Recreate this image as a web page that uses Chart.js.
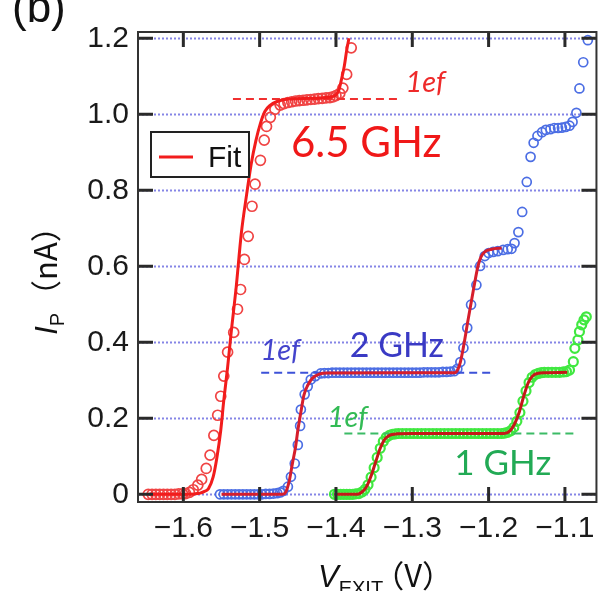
<!DOCTYPE html>
<html>
<head>
<meta charset="utf-8">
<script src="https://cdn.jsdelivr.net/npm/chart.js@4.4.0/dist/chart.umd.min.js"></script>
<style>
  html, body { margin: 0; padding: 0; background: #fff; }
  canvas { display: block; }
</style>
</head>
<body>
<canvas id="chart" width="604" height="591"></canvas>
<script>
// pumped current I_P against exit gate voltage, three pump frequencies
const xTicks = [-1.6, -1.5, -1.4, -1.3, -1.2, -1.1];
const yTicks = [0, 0.2, 0.4, 0.6, 0.8, 1.0, 1.2];

// 6.5 GHz measurement and fit
const data65 = [
  [-1.646,0],[-1.641,0],[-1.636,0],[-1.631,0],[-1.626,0],[-1.621,0],[-1.616,0],[-1.611,0],[-1.606,0.001],[-1.601,0.001],[-1.597,0.002],
  [-1.592,0.005],[-1.587,0.012],[-1.581,0.024],[-1.576,0.039],[-1.570,0.068],[-1.565,0.103],[-1.560,0.155],[-1.555,0.208],[-1.551,0.258],
  [-1.547,0.311],[-1.542,0.374],[-1.534,0.426],[-1.529,0.487],[-1.525,0.539],[-1.520,0.618],[-1.515,0.679],[-1.510,0.758],[-1.506,0.816],
  [-1.499,0.879],[-1.494,0.932],[-1.491,0.968],[-1.486,0.992],[-1.480,1.013],[-1.473,1.024],[-1.468,1.028],[-1.463,1.031],[-1.458,1.033],
  [-1.453,1.035],[-1.448,1.036],[-1.443,1.037],[-1.438,1.038],[-1.433,1.039],[-1.428,1.040],[-1.423,1.041],[-1.418,1.042],[-1.413,1.043],
  [-1.408,1.044],[-1.404,1.046],[-1.400,1.049],[-1.395,1.055],[-1.391,1.069],[-1.386,1.105],[-1.380,1.175]
];
const fit65 = [
  [-1.646,0],[-1.600,0],[-1.585,0.001],[-1.578,0.003],[-1.573,0.007],[-1.567,0.015],[-1.561,0.045],[-1.556,0.097],[-1.551,0.168],
  [-1.547,0.247],[-1.542,0.334],[-1.537,0.432],[-1.531,0.54],[-1.524,0.687],[-1.517,0.79],[-1.511,0.87],[-1.505,0.93],[-1.499,0.976],
  [-1.493,1.008],[-1.486,1.024],[-1.478,1.033],[-1.463,1.040],[-1.430,1.042],[-1.410,1.045],[-1.400,1.051],[-1.396,1.065],[-1.393,1.090],
  [-1.389,1.128],[-1.386,1.168],[-1.383,1.200]
];

// 2 GHz measurement and fit
const data2 = [
  [-1.552,0],[-1.547,0],[-1.542,0],[-1.537,0],[-1.532,0],[-1.527,0],[-1.522,0],[-1.517,0],[-1.512,0],[-1.507,0],[-1.502,0],[-1.497,0],
  [-1.492,0.001],[-1.487,0.001],[-1.482,0.002],[-1.477,0.003],[-1.473,0.005],[-1.469,0.009],
  [-1.463,0.020],[-1.459,0.046],[-1.454,0.081],[-1.450,0.130],[-1.447,0.180],[-1.446,0.223],[-1.441,0.263],[-1.437,0.284],[-1.433,0.302],
  [-1.427,0.311],[-1.420,0.318],
  [-1.415,0.319],[-1.410,0.319],[-1.405,0.320],[-1.400,0.320],[-1.395,0.320],[-1.390,0.320],[-1.385,0.320],[-1.380,0.320],[-1.375,0.320],
  [-1.370,0.320],[-1.365,0.320],[-1.360,0.320],[-1.355,0.320],[-1.350,0.320],[-1.345,0.320],[-1.340,0.320],[-1.335,0.320],[-1.330,0.320],
  [-1.325,0.320],[-1.320,0.320],[-1.315,0.320],[-1.310,0.320],[-1.305,0.320],[-1.300,0.320],[-1.295,0.320],[-1.290,0.320],[-1.285,0.321],
  [-1.280,0.321],[-1.275,0.321],[-1.270,0.321],[-1.265,0.321],[-1.260,0.322],[-1.255,0.322],[-1.250,0.323],[-1.245,0.324],[-1.241,0.330],
  [-1.237,0.348],[-1.233,0.385],[-1.228,0.438],[-1.223,0.499],[-1.216,0.551],[-1.211,0.601],[-1.205,0.627],[-1.200,0.635],[-1.194,0.638],
  [-1.188,0.640],[-1.181,0.643],[-1.175,0.645],[-1.170,0.646],[-1.166,0.661],[-1.161,0.690],[-1.156,0.743],[-1.150,0.822],[-1.145,0.888],
  [-1.141,0.925],[-1.136,0.943],[-1.130,0.953],[-1.125,0.959],[-1.119,0.961],[-1.114,0.964],[-1.109,0.964],[-1.104,0.965],[-1.099,0.967],
  [-1.094,0.970],[-1.090,0.980],[-1.085,1.004],[-1.081,1.068],[-1.076,1.137],[-1.070,1.195]
];
const fit2 = [
  [-1.550,0],[-1.470,0],[-1.466,0.005],[-1.461,0.037],[-1.457,0.082],[-1.453,0.124],[-1.450,0.168],[-1.446,0.216],[-1.442,0.261],
  [-1.437,0.287],[-1.431,0.305],[-1.422,0.316],[-1.411,0.319],[-1.300,0.320],[-1.244,0.320],[-1.240,0.330],[-1.237,0.348],[-1.233,0.387],
  [-1.227,0.458],[-1.220,0.537],[-1.214,0.600],[-1.210,0.625],[-1.205,0.638],[-1.196,0.645],[-1.183,0.648]
];

// 1 GHz measurement and fit
const data1 = [
  [-1.402,0],[-1.398,0],[-1.394,0],[-1.390,0],[-1.386,0],[-1.382,0],[-1.378,0],[-1.374,0.001],[-1.370,0.002],[-1.366,0.006],[-1.362,0.013],
  [-1.358,0.025],[-1.354,0.045],[-1.350,0.070],[-1.346,0.097],[-1.342,0.121],[-1.338,0.139],[-1.334,0.150],[-1.330,0.155],[-1.326,0.158],
  [-1.322,0.159],[-1.318,0.160],
  [-1.313,0.160],[-1.308,0.160],[-1.303,0.160],[-1.298,0.160],[-1.293,0.160],[-1.288,0.160],[-1.283,0.160],[-1.278,0.160],[-1.273,0.160],
  [-1.268,0.160],[-1.263,0.160],[-1.258,0.160],[-1.253,0.160],[-1.248,0.160],[-1.243,0.160],[-1.238,0.160],[-1.233,0.160],[-1.228,0.160],
  [-1.223,0.160],[-1.218,0.160],[-1.213,0.160],[-1.208,0.160],[-1.203,0.160],[-1.198,0.160],[-1.193,0.160],[-1.188,0.160],[-1.183,0.160],
  [-1.179,0.161],[-1.175,0.163],[-1.171,0.167],[-1.167,0.176],[-1.163,0.192],[-1.159,0.215],[-1.155,0.245],[-1.151,0.272],[-1.147,0.294],
  [-1.143,0.308],[-1.139,0.315],[-1.135,0.318],[-1.131,0.320],[-1.127,0.321],[-1.122,0.321],[-1.117,0.321],[-1.112,0.321],[-1.107,0.321],
  [-1.102,0.322],[-1.098,0.323],[-1.094,0.327],[-1.089,0.349],[-1.087,0.384],[-1.083,0.406],[-1.081,0.428],[-1.078,0.446],[-1.075,0.459],
  [-1.072,0.467]
];
const fit1 = [
  [-1.402,0],[-1.372,0],[-1.366,0.006],[-1.360,0.020],[-1.354,0.048],[-1.348,0.085],[-1.342,0.121],[-1.336,0.145],[-1.330,0.155],
  [-1.320,0.159],[-1.300,0.160],[-1.180,0.160],[-1.172,0.167],[-1.166,0.185],[-1.160,0.215],[-1.154,0.258],[-1.148,0.294],[-1.142,0.312],
  [-1.136,0.318],[-1.125,0.320],[-1.097,0.321]
];

// 1ef current levels (dashed)
const level65 = [[-1.535,1.04],[-1.318,1.04]];
const level2 = [[-1.498,0.32],[-1.192,0.32]];
const level1 = [[-1.389,0.16],[-1.086,0.16]];

const pts = a => a.map(([x, y]) => ({ x, y }));

const RED = '#f21c1c';
const BLUE = '#4c6ee4';
const GREEN = '#40e840';

function fitSet(arr, color) {
  return { label: 'Fit', data: pts(arr), showLine: true, borderColor: color, borderWidth: 3,
    pointRadius: 0, cubicInterpolationMode: 'monotone', order: 0 };
}
function levelSet(arr, color) {
  return { label: '1ef', data: pts(arr), showLine: true, borderColor: color, borderWidth: 2,
    borderDash: [8, 5], pointRadius: 0, order: 1 };
}
function dotSet(arr, color, label, r, bw) {
  return { label, data: pts(arr), showLine: false, pointRadius: r, pointBorderWidth: bw,
    pointBorderColor: color, pointBackgroundColor: 'rgba(0,0,0,0)', order: 2 };
}

// text labels placed in data units
const notes = [
  { text: '1ef', x: -1.309, y: 1.058, color: '#ee2a2a', font: 'italic 29px Lato' },
  { text: '6.5 GHz', x: -1.459, y: 0.888, color: '#f01818', font: '42px Lato' },
  { text: '1ef', x: -1.499, y: 0.354, color: '#4444cc', font: 'italic 29px Lato' },
  { text: '2 GHz', x: -1.382, y: 0.361, color: '#3a3ac4', font: '34px Lato' },
  { text: '1ef', x: -1.411, y: 0.177, color: '#33bb55', font: 'italic 29px Lato' },
  { text: '1 GHz', x: -1.245, y: 0.051, color: '#22aa55', font: '35px Lato' }
];

// draws a row of text pieces with their own fonts and baseline shifts
function drawPieces(ctx, parts, x0, y0) {
  let cx = x0;
  parts.forEach(p => {
    ctx.font = p.f;
    ctx.fillText(p.t, cx + (p.dx || 0), y0 + (p.dy || 0));
    cx += ctx.measureText(p.t).width + (p.dx || 0);
  });
  return cx;
}
function piecesWidth(ctx, parts) {
  let w = 0;
  parts.forEach(p => { ctx.font = p.f; w += ctx.measureText(p.t).width + (p.dx || 0); });
  return w;
}

const frame = {
  id: 'frame',
  beforeDatasetsDraw(chart) {
    const { ctx, chartArea: a, scales: { y } } = chart;
    ctx.save();
    ctx.strokeStyle = '#8585e6';
    ctx.lineWidth = 2;
    ctx.setLineDash([2, 2]);
    yTicks.forEach(v => {
      const py = Math.round(y.getPixelForValue(v)) + 0.5;
      ctx.beginPath();
      ctx.moveTo(a.left, py);
      ctx.lineTo(a.right, py);
      ctx.stroke();
    });
    ctx.restore();
  },
  afterDraw(chart) {
    const { ctx, chartArea: a, scales: { x, y } } = chart;
    ctx.save();
    // inward ticks on all four sides
    ctx.strokeStyle = '#2a2a2a';
    ctx.lineWidth = 3;
    const tl = 15;
    xTicks.forEach(v => {
      const px = x.getPixelForValue(v);
      ctx.beginPath();
      ctx.moveTo(px, a.bottom); ctx.lineTo(px, a.bottom - tl);
      ctx.moveTo(px, a.top); ctx.lineTo(px, a.top + tl);
      ctx.stroke();
    });
    yTicks.forEach(v => {
      const py = y.getPixelForValue(v);
      ctx.beginPath();
      ctx.moveTo(a.left, py); ctx.lineTo(a.left + tl, py);
      ctx.moveTo(a.right, py); ctx.lineTo(a.right - tl, py);
      ctx.stroke();
    });
    ctx.lineWidth = 2;
    ctx.strokeStyle = '#333';
    ctx.strokeRect(a.left, a.top, a.right - a.left, a.bottom - a.top);

    // annotations
    ctx.textBaseline = 'alphabetic';
    ctx.textAlign = 'left';
    notes.forEach(n => {
      ctx.font = n.font;
      ctx.fillStyle = n.color;
      ctx.fillText(n.text, x.getPixelForValue(n.x), y.getPixelForValue(n.y));
    });

    // legend box for the fit curves
    const lx = a.left + 13, ly = a.top + 100;
    ctx.fillStyle = '#fff';
    ctx.fillRect(lx, ly, 98, 45);
    ctx.strokeStyle = '#222';
    ctx.lineWidth = 2;
    ctx.strokeRect(lx, ly, 98, 45);
    ctx.strokeStyle = RED;
    ctx.lineWidth = 3;
    ctx.beginPath();
    ctx.moveTo(lx + 8, ly + 25); ctx.lineTo(lx + 42, ly + 25);
    ctx.stroke();
    ctx.fillStyle = '#111';
    ctx.font = '30px "Liberation Sans"';
    ctx.fillText(chart.data.datasets[0].label, lx + 57, ly + 35);

    // y title: I_P (nA)
    const partsY = [
      { t: 'I', f: 'italic 31px "Liberation Sans"' },
      { t: 'P', f: '20px "Liberation Sans"', dy: 7 },
      { t: '\uFF08nA\uFF09', f: '31px "Noto Sans CJK JP"', dx: 2 }
    ];
    ctx.save();
    ctx.translate(57, 273);
    ctx.rotate(-Math.PI / 2);
    ctx.fillStyle = '#111';
    drawPieces(ctx, partsY, -piecesWidth(ctx, partsY) / 2, 0);
    ctx.restore();

    // x title: V_EXIT (V)
    const partsX = [
      { t: 'V', f: 'italic 31px "Liberation Sans"' },
      { t: 'EXIT', f: '20px "Liberation Sans"', dy: 8 },
      { t: '\uFF08V\uFF09', f: '31px "Noto Sans CJK JP"', dx: -10 }
    ];
    ctx.fillStyle = '#111';
    drawPieces(ctx, partsX, 318, 587);

    // panel tag
    ctx.font = '44px "Liberation Sans"';
    ctx.fillText('(b)', 12, 22);
    ctx.restore();
  }
};

new Chart(document.getElementById('chart'), {
  type: 'scatter',
  data: {
    datasets: [
      fitSet(fit65, RED), fitSet(fit2, '#d61e2c'), fitSet(fit1, '#c41818'),
      levelSet(level65, '#f03030'), levelSet(level2, '#3d52d8'), levelSet(level1, '#3cbb66'),
      dotSet(data65, '#f04444', '6.5 GHz', 5, 1.7), dotSet(data2, BLUE, '2 GHz', 4.5, 1.7),
      dotSet(data1, GREEN, '1 GHz', 4.5, 2.2)
    ]
  },
  options: {
    responsive: false,
    animation: false,
    devicePixelRatio: 1,
    layout: { padding: { top: 32, right: 1, left: 0, bottom: 0 } },
    plugins: { legend: { display: false }, tooltip: { enabled: false } },
    scales: {
      x: {
        type: 'linear', min: -1.6594, max: -1.0587,
        afterFit: s => { s.height = 89; },
        grid: { display: false, drawTicks: false },
        border: { display: false },
        ticks: {
          stepSize: 0.1, includeBounds: false, padding: 9, color: '#1a1a1a',
          font: { family: '"Liberation Sans"', size: 30 },
          callback: v => (v < 0 ? '\u2212' : '') + Math.abs(v).toFixed(1)
        }
      },
      y: {
        type: 'linear', min: -0.0203, max: 1.2166,
        afterFit: s => { s.width = 138; },
        grid: { display: false, drawTicks: false },
        border: { display: false },
        ticks: {
          stepSize: 0.2, includeBounds: false, padding: 9, color: '#1a1a1a',
          font: { family: '"Liberation Sans"', size: 30 },
          callback: v => Math.abs(v) < 1e-9 ? '0' : v.toFixed(1)
        }
      }
    }
  },
  plugins: [frame]
});
</script>
</body>
</html>
